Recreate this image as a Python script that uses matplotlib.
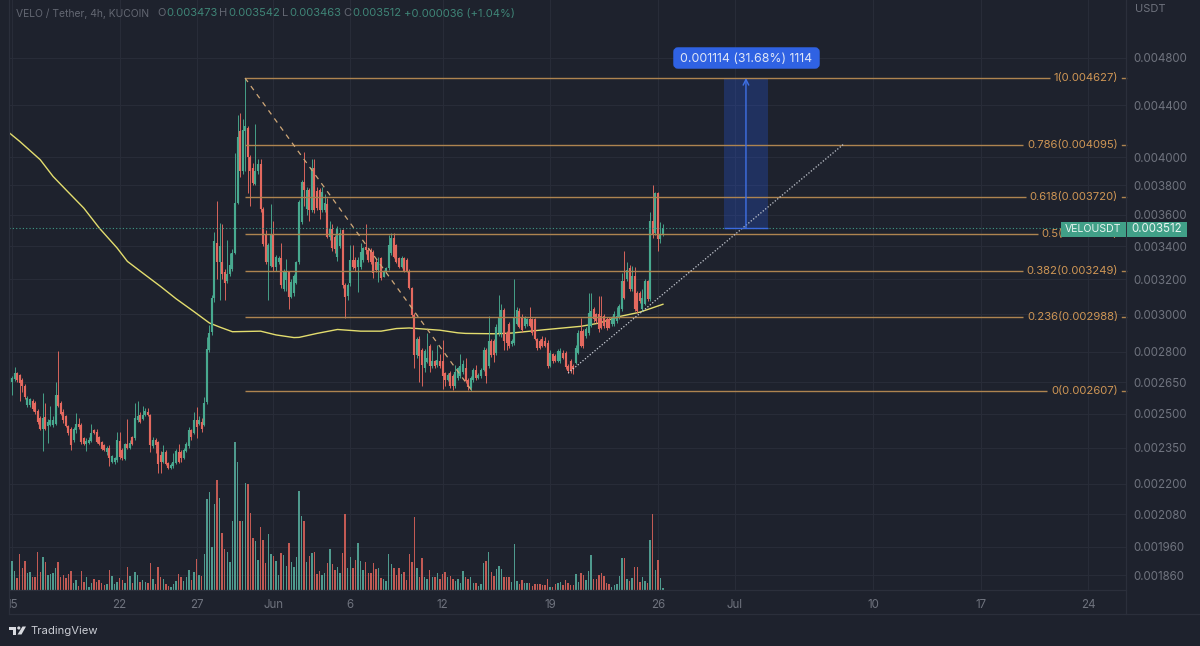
import numpy as np
import pandas as pd
import matplotlib
matplotlib.use("Agg")
import matplotlib.pyplot as plt
import matplotlib.dates as mdates
from matplotlib.patches import Rectangle, FancyBboxPatch, Polygon, Circle
from matplotlib.ticker import NullLocator, NullFormatter
from matplotlib.transforms import Bbox

plt.rcParams['font.family'] = ['Inter', 'DejaVu Sans']

# ---- data (prices in millionths of USDT) ----
opens = [
 2640,2650,2665,2695,2685,2660,2630,2540,2540,2560,
 2550,2515,2480,2430,2485,2445,2450,2450,2455,2590,
 2550,2510,2490,2445,2430,2385,2425,2455,2450,2390,
 2365,2370,2380,2425,2420,2395,2375,2360,2330,2350,
 2290,2290,2295,2380,2340,2300,2365,2350,2395,2390,
 2470,2495,2475,2495,2510,2495,2355,2385,2375,2320,
 2290,2330,2285,2263,2270,2285,2330,2330,2305,2335,
 2355,2425,2415,2470,2455,2465,2450,2555,2810,2905,
 3090,3420,3300,3300,3240,3190,3230,3260,3360,3680,
 4200,3900,4200,4220,4000,3920,3810,3900,3950,3640,
 3470,3300,3280,3470,3270,3300,3325,3145,3195,3240,
 3095,3120,3180,3300,3555,3825,3640,3770,3630,3920,
 3760,3765,3630,3630,3675,3455,3510,3455,3330,3400,
 3500,3165,3100,3175,3315,3315,3270,3274,3315,3396,
 3375,3375,3365,3305,3254,3325,3215,3245,3264,3355,
 3448,3407,3325,3274,3325,3315,3250,3146,2996,2785,
 2865,2811,2720,2750,2829,2727,2752,2735,2752,2752,
 2694,2662,2694,2678,2630,2670,2678,2700,2718,2662,
 2622,2662,2711,2670,2678,2711,2811,2727,2855,2855,
 2795,2898,2898,3025,2898,2950,2840,2846,2950,3020,
 2988,2937,2945,2972,2972,2972,2866,2857,2866,2857,
 2848,2730,2788,2780,2755,2755,2797,2797,2730,2755,
 2730,2746,2797,2910,2910,2883,2901,2937,3027,3000,
 3000,2990,2990,2972,2972,2945,2945,2963,2981,3027,
 3188,3198,3266,3140,3217,3121,3121,3027,3056,3188,
 3084,3560,3480,3745,3445,3473]
highs = [
 2680,2680,2725,2700,2690,2670,2640,2585,2575,2570,
 2560,2520,2490,2598,2550,2476,2536,2490,2650,2805,
 2560,2520,2495,2450,2440,2440,2505,2480,2460,2395,
 2390,2395,2455,2430,2430,2400,2380,2365,2355,2360,
 2320,2310,2420,2420,2350,2370,2476,2385,2400,2550,
 2560,2510,2535,2525,2525,2500,2395,2390,2380,2335,
 2360,2340,2290,2285,2325,2345,2365,2340,2350,2375,
 2440,2430,2510,2530,2490,2480,2580,2880,2940,3110,
 3490,3690,3550,3540,3260,3440,3360,3380,4030,4320,
 4340,4290,4627,4240,4020,3960,4250,3990,3990,3650,
 3500,3420,3670,3560,3345,3340,3420,3260,3320,3250,
 3200,3230,3310,3700,3840,4040,3790,3780,3985,3985,
 3790,3780,3790,3740,3710,3560,3540,3470,3530,3510,
 3510,3175,3180,3407,3407,3330,3330,3417,3395,3540,
 3385,3385,3375,3320,3335,3335,3255,3275,3470,3480,
 3480,3415,3335,3340,3335,3325,3260,3155,3010,2880,
 2885,2820,2815,2900,2840,2810,2760,2835,2790,2863,
 2700,2695,2705,2690,2735,2725,2790,2760,2770,2670,
 2680,2720,2735,2695,2720,2825,2820,2990,2865,2865,
 2945,3110,3060,3035,2910,2960,2865,3200,3040,3035,
 3000,2990,2980,3040,2980,2980,2875,2870,2885,2880,
 2860,2810,2795,2790,2815,2820,2810,2805,2740,2765,
 2740,2835,2915,2981,2920,2930,3121,3121,3040,3010,
 3100,3100,3000,2985,2985,2990,3020,3040,3060,3237,
 3367,3300,3286,3280,3270,3130,3130,3140,3200,3195,
 3622,3805,3755,3755,3555,3542]
lows = [
 2625,2590,2655,2650,2560,2600,2570,2530,2530,2515,
 2500,2455,2425,2335,2425,2370,2445,2440,2450,2530,
 2495,2460,2440,2405,2340,2375,2415,2430,2365,2360,
 2335,2365,2375,2410,2370,2360,2340,2335,2320,2270,
 2285,2280,2290,2300,2295,2295,2345,2345,2360,2385,
 2465,2460,2470,2490,2490,2330,2350,2325,2245,2245,
 2285,2275,2260,2258,2265,2280,2285,2290,2300,2330,
 2350,2385,2410,2390,2450,2420,2445,2545,2800,2890,
 3070,3200,3080,3200,3080,3180,3220,3250,3350,3670,
 3860,3880,3900,3750,3660,3800,3800,3880,3620,3400,
 3290,3080,3270,3250,3250,3290,3150,3130,3130,3030,
 3090,3100,3170,3290,3540,3660,3600,3560,3620,3615,
 3630,3570,3620,3620,3450,3440,3370,3360,3310,3390,
 3150,2978,3080,3160,3260,3250,3127,3260,3300,3350,
 3300,3290,3205,3240,3185,3195,3210,3235,3255,3345,
 3325,3295,3265,3265,3240,3240,3140,2985,2718,2770,
 2650,2630,2700,2745,2700,2720,2720,2725,2720,2615,
 2630,2655,2622,2610,2620,2660,2670,2690,2645,2610,
 2607,2650,2660,2665,2670,2705,2646,2720,2775,2750,
 2785,2885,2880,2811,2811,2820,2830,2835,2940,2925,
 2905,2925,2935,2930,2890,2860,2810,2815,2825,2825,
 2720,2722,2745,2750,2750,2745,2765,2715,2694,2695,
 2690,2740,2790,2825,2820,2875,2890,2930,2960,2955,
 2905,2920,2925,2915,2925,2935,2935,2955,2975,3020,
 3085,3190,3130,3130,3020,3010,3065,3020,3050,3075,
 3075,3450,3470,3367,3420,3463]
closes = [
 2675,2670,2695,2660,2645,2630,2580,2575,2567,2520,
 2510,2465,2430,2480,2430,2462,2470,2470,2590,2535,
 2500,2470,2445,2415,2360,2430,2455,2440,2375,2365,
 2380,2385,2415,2415,2375,2365,2345,2340,2350,2305,
 2315,2305,2385,2310,2305,2365,2350,2370,2365,2480,
 2490,2465,2495,2515,2495,2360,2385,2360,2280,2290,
 2330,2280,2265,2278,2290,2335,2290,2305,2340,2365,
 2425,2395,2470,2440,2470,2430,2550,2815,2900,3090,
 3430,3300,3400,3230,3180,3230,3285,3360,3680,4150,
 3900,4210,4240,4000,3900,3820,3900,3950,3640,3410,
 3305,3405,3470,3270,3335,3325,3165,3240,3240,3095,
 3185,3220,3300,3685,3825,3768,3770,3630,3920,3630,
 3645,3630,3755,3680,3460,3510,3390,3380,3510,3480,
 3165,3099,3165,3315,3274,3264,3315,3365,3386,3375,
 3315,3305,3234,3254,3305,3205,3245,3264,3407,3448,
 3335,3305,3274,3325,3250,3250,3146,2996,2785,2865,
 2780,2736,2803,2770,2727,2752,2727,2761,2727,2678,
 2662,2686,2630,2630,2700,2718,2727,2740,2654,2627,
 2670,2711,2670,2686,2711,2811,2678,2855,2786,2786,
 2933,2988,3025,2855,2846,2829,2855,2978,3025,2933,
 2915,2980,2972,2937,2901,2866,2822,2822,2831,2831,
 2730,2797,2755,2755,2805,2805,2771,2722,2705,2705,
 2713,2822,2901,2831,2831,2919,3009,3018,2972,2963,
 2919,2928,2937,2928,2928,2972,3000,2990,3047,3188,
 3093,3256,3140,3217,3027,3018,3074,3093,3188,3084,
 3560,3470,3745,3445,3475,3512]
volumes = [
 57,88,57,35,107,65,87,52,55,40,
 40,115,53,98,85,45,48,50,65,85,
 40,45,35,48,58,20,30,12,57,25,
 38,10,20,32,25,30,20,15,18,60,
 42,18,25,37,30,22,68,42,20,55,
 45,25,30,25,20,80,32,18,68,40,
 32,17,12,10,17,28,47,40,28,40,
 60,30,55,92,45,43,108,272,293,130,
 258,330,277,170,122,115,83,207,443,383,
 208,208,320,317,230,155,148,90,189,150,
 82,167,108,102,87,45,110,104,72,142,
 85,68,98,297,222,208,84,102,110,113,
 48,57,45,50,80,122,77,60,68,50,
 110,228,65,98,65,90,140,88,60,85,
 52,52,82,62,65,35,32,28,108,78,
 65,45,65,48,54,30,107,83,218,65,
 38,95,38,33,60,40,40,50,33,48,
 55,40,42,32,28,32,20,57,40,33,
 38,22,20,13,17,82,87,113,53,42,
 62,73,62,39,39,39,24,138,28,18,
 30,22,22,20,12,19,19,17,15,15,
 32,8,10,17,22,24,15,29,20,15,
 15,48,24,50,44,30,57,104,33,32,
 46,50,42,22,18,9,15,18,42,95,
 95,33,27,35,69,68,25,40,28,20,
 150,228,60,90,35,5]

ma_index = [0,4,12,17,22,29,35,42,46,52,59,65,72,78,82,87,98,104,111,113,120,128,137,145,151,156,
            168,175,178,190,196,209,223,230,238,246,255]
ma_price = [4183,4119,3983,3863,3770,3645,3515,3388,3306,3236,3157,3087,3015,2953,2931,2906,2909,2889,2875,
            2876,2897,2918,2909,2909,2923,2926,2914,2900,2897,2895,2899,2917,2935,2952,2988,3012,3056]

fib_levels = ['0','0.236','0.382','0.5','0.618','0.786','1']
fib_prices = [2607,2988,3249,3477,3720,4095,4627]

price_ticks = [4800,4400,4000,3800,3600,3400,3200,3000,2800,2650,2500,2350,2200,2080,1960,1860]
date_ticks = ['2023-05-15','2023-05-22','2023-05-27','2023-06-01','2023-06-06','2023-06-12',
              '2023-06-19','2023-06-26','2023-07-01','2023-07-10','2023-07-17','2023-07-24']
date_labels = ['15','22','27','Jun','6','12','19','26','Jul','10','17','24']

last_price = 3512
measure_low = 3512
measure_high = 4627

# ---- colours ----
BG = '#1e222d'; GRID = '#282c38'; TXT = '#6f737e'
UP = '#48a98f'; DOWN = '#e4695f'
VUP = '#4f9a8e'; VDN = '#c25a54'
FIB = '#ae8450'; FIBTXT = '#cf9655'

n = min(len(opens), len(highs), len(lows), len(closes), len(volumes))
o = np.array(opens[:n])*1e-6; h = np.array(highs[:n])*1e-6
l = np.array(lows[:n])*1e-6; c = np.array(closes[:n])*1e-6
v = np.array(volumes[:n], float)

start = pd.Timestamp('2023-05-14 20:00')
dates = pd.date_range(start, periods=n, freq='4h')
xs = mdates.date2num(dates)
bar = 1/6.
def ix(i):
    return xs[0] + i*bar

W, H = 1200, 646
fig = plt.figure(figsize=(12, 6.46), dpi=100, facecolor=BG)
rect = [9/W, (H-590)/H, (1126-9)/W, 590/H]

axv = fig.add_axes(rect, facecolor=BG, zorder=1)
ax = fig.add_axes(rect, facecolor='none', zorder=2)

# x range: 15.375 px per day, with 15 May at px 12
x15 = mdates.date2num(pd.Timestamp('2023-05-15'))
ppd = 15.375
xlim = (x15 - (12.06-9)/ppd, x15 + (1126-12.06)/ppd)
ax.set_xlim(xlim); axv.set_xlim(xlim)
ax.set_yscale('log'); ax.set_ylim(1810e-6, 5338e-6)
axv.set_ylim(0, 1770)

# grid drawn behind everything on the volume axes
for p in price_ticks:
    pos = (np.log(p*1e-6)-np.log(1810e-6))/(np.log(5338e-6)-np.log(1810e-6))
    axv.axhline(pos*1770, color=GRID, lw=0.8, zorder=0)
for d in date_ticks:
    axv.axvline(mdates.date2num(pd.Timestamp(d)), color=GRID, lw=0.8, zorder=0)

up = c >= o
axv.bar(xs, v, width=bar*0.56, color=[VUP if u else VDN for u in up], zorder=2, linewidth=0)
axv.set_xticks([]); axv.set_yticks([])
for s in axv.spines.values():
    s.set_visible(False)

# moving average
ax.plot(ix(np.array(ma_index)), np.array(ma_price)*1e-6, color='#e3dd6e', lw=1.0, zorder=2)

# candles
cols = [UP if u else DOWN for u in up]
ax.vlines(xs, l, h, colors=cols, lw=0.65, zorder=3)
ax.vlines(xs, np.minimum(o, c), np.maximum(o, c), colors=cols, lw=1.55, zorder=4)

# last price
ax.axhline(last_price*1e-6, color='#3f9c88', lw=0.8, ls=(0, (1, 2)), zorder=5)

# axes furniture
ax.set_yticks(np.array(price_ticks)*1e-6)
ax.set_yticklabels(['%.6f' % (p*1e-6) for p in price_ticks])
ax.yaxis.set_minor_locator(NullLocator()); ax.yaxis.set_minor_formatter(NullFormatter())
ax.yaxis.tick_right()
ax.tick_params(axis='y', length=0, pad=5, labelsize=8.3, labelcolor=TXT)
ax.set_xticks(mdates.date2num(pd.to_datetime(date_ticks)))
ax.set_xticklabels(date_labels)
ax.tick_params(axis='x', length=0, pad=6.5, labelsize=8.3, labelcolor=TXT)
clip = Bbox([[9, 0], [W, H]])
for t in ax.get_xticklabels():
    t.set_clip_on(True); t.set_clip_box(clip)
for s in ax.spines.values():
    s.set_visible(False)

# fibonacci retracement
fib_x0 = ix(91.9)
txf = ax.get_yaxis_transform()
rend = fig.canvas.get_renderer()
inv = ax.transData.inverted()
for lev, p in zip(fib_levels, fib_prices):
    pr = p*1e-6
    t = ax.text((1118-9)/(1126-9), pr, '%s(%.6f)' % (lev, pr), transform=txf, ha='right', va='center',
                fontsize=8.15, color=FIBTXT, zorder=7)
    x_left = t.get_window_extent(rend).x0
    x_end = inv.transform((x_left-4, 0))[0]
    ax.hlines(pr, fib_x0, x_end, color=FIB, lw=1.0, zorder=6)
    ax.plot([(1122-9)/(1126-9), 1], [pr, pr], transform=txf, color=FIB, lw=1.0, zorder=6, clip_on=False)

# trend lines
ax.plot([fib_x0, ix(180.5)], [fib_prices[-1]*1e-6, fib_prices[0]*1e-6], color='#d0a878', lw=0.9,
        ls=(0, (4, 4)), zorder=6)
ax.plot([ix(218), ix(325.3)], [2694e-6, fib_prices[5]*1e-6], color='#c8ccd4', lw=0.9,
        ls=(0, (1, 1.5)), zorder=6)

# price range measure
ax.add_patch(Rectangle((ix(278.8), measure_low*1e-6), ix(296)-ix(278.8), (measure_high-measure_low)*1e-6,
                       facecolor='#2962ff', alpha=0.24, edgecolor='none', zorder=5))
ax.hlines(measure_low*1e-6, ix(278.8), ix(296), color='#3a6be0', lw=1.0, zorder=6)
ax.annotate('', xy=(ix(287.4), measure_high*1e-6), xytext=(ix(287.4), measure_low*1e-6),
            arrowprops=dict(arrowstyle='->', color='#3f70e6', lw=1.0, shrinkA=0, shrinkB=0), zorder=6)

# overlay in pixel space for chart chrome
ov = fig.add_axes([0, 0, 1, 1], facecolor='none', zorder=5)
ov.set_xlim(0, W); ov.set_ylim(H, 0); ov.axis('off')

for xa, ya, xb, yb in [(1126, 0, 1126, 614), (9, 590, 1126, 590), (9, 614, W, 614), (9, 0, 9, 614)]:
    ov.plot([xa, xb], [ya, yb], color='#2b2f3b', lw=0.9, zorder=1)

ov.add_patch(FancyBboxPatch((675, 49), 143, 18, boxstyle='round,pad=0,rounding_size=3', mutation_scale=1,
                            facecolor='#2f62e3', edgecolor='#2f62e3', lw=2.5, zorder=3))
ov.text(746.5, 58.5, '0.001114 (31.68%) 1114', color='#dfe6f7', fontsize=8.9, ha='center', va='center', zorder=4)

ov.add_patch(Rectangle((1061, 222), 64.5, 15, facecolor='#41a088', edgecolor='none', zorder=3))
ov.add_patch(Rectangle((1126.5, 222), 60.5, 15, facecolor='#41a088', edgecolor='none', zorder=3))
ov.text(1093, 229.5, 'VELOUSDT', color='#e8f3f0', fontsize=7.6, ha='center', va='center', zorder=4)
ov.text(1156.5, 229.5, '0.003512', color='#e8f3f0', fontsize=8.3, ha='center', va='center', zorder=4)
ov.text(1135, 9, 'USDT', color=TXT, fontsize=8.0, ha='left', va='center')

HEAD = '#636772'; TEAL = '#3f8577'
hy = 13.5
ov.text(16.5, hy, 'VELO / Tether, 4h, KUCOIN', color=HEAD, fontsize=7.45, ha='left', va='center')
for x, lab, val in [(157, 'O', '0.003473'), (219.5, 'H', '0.003542'), (282, 'L', '0.003463'), (343.5, 'C', '0.003512')]:
    ov.text(x, hy, lab, color=HEAD, fontsize=8.0, ha='left', va='center')
    ov.text(x + {'O': 9.5, 'H': 9.2, 'L': 7.2, 'C': 8.8}[lab], hy, val, color=TEAL, fontsize=8.0, ha='left', va='center')
ov.text(404.5, hy, '+0.000036 (+1.04%)', color=TEAL, fontsize=8.0, ha='left', va='center')

# TradingView mark
LOGO = '#d8dadf'
ov.add_patch(Polygon([(9.3, 626.5), (16, 626.5), (16, 634.5), (12.7, 634.5), (12.7, 629.5), (9.3, 629.5)],
                     closed=True, facecolor=LOGO, edgecolor='none'))
ov.add_patch(Circle((18.8, 628), 1.6, facecolor=LOGO, edgecolor='none'))
ov.add_patch(Polygon([(22.5, 626.5), (26, 626.5), (21.5, 634.5), (17.5, 634.5)],
                     closed=True, facecolor=LOGO, edgecolor='none'))
ov.text(30, 631, 'TradingView', color='#c9ccd3', fontsize=8.1, ha='left', va='center')

fig.savefig('out.png', dpi=100, facecolor=BG)
